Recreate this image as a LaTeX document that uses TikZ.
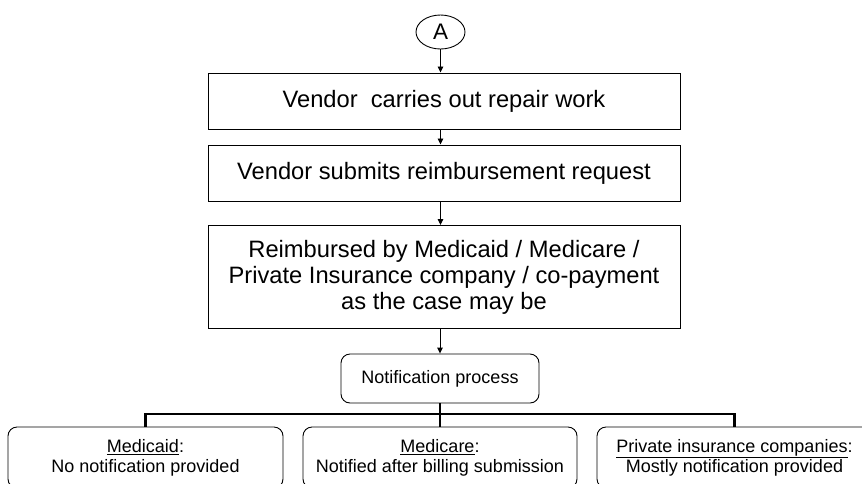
\documentclass[tikz,border=0pt]{standalone}
\usepackage{fontspec}
\setmainfont{Liberation Sans}
\usetikzlibrary{shapes.geometric,arrows.meta}
\tikzset{
  bigtxt/.style={font=\fontsize{23.7}{26}\selectfont, align=center},
  smalltxt/.style={font=\fontsize{18}{20}\selectfont, align=center},
  stepbox/.style={draw=black, line width=1pt, rectangle, minimum width=472pt, inner sep=0pt, bigtxt},
  roundbox/.style={draw=black, line width=0.9pt, rectangle, rounded corners=9pt, inner sep=0pt, smalltxt},
  conn/.style={line width=0.9pt, -{Triangle[length=6pt,width=5.5pt]}},
  bus/.style={line width=2.8pt}
}
\begin{document}
\begin{tikzpicture}[x=1pt,y=-1pt]
\useasboundingbox (0,0) rectangle (862,483);
\clip (0,0) rectangle (862,483);
\node[draw=black, line width=0.9pt, ellipse, minimum width=49pt, minimum height=34pt, inner sep=0pt,
      font=\fontsize{22.5}{24}\selectfont] (A) at (440.5,32) {A};
\node[stepbox, minimum height=56pt] (b1) at (444,101) {Vendor~ carries out repair work};
\node[stepbox, minimum height=56pt] (b2) at (444,173) {Vendor submits reimbursement request};
\node[stepbox, minimum height=103pt] (b3) at (444,277) {Reimbursed by Medicaid / Medicare /\\Private Insurance company / co-payment\\as the case may be};
\node[roundbox, minimum width=198pt, minimum height=49pt] (np) at (440,378.5) {Notification process};
\node[roundbox, minimum width=275pt, minimum height=61pt] (c1) at (145.5,457.5) {\underline{Medicaid}:\\No notification provided};
\node[roundbox, minimum width=274pt, minimum height=61pt] (c2) at (440,457.5) {\underline{Medicare}:\\Notified after billing submission};
\node[roundbox, minimum width=275pt, minimum height=61pt] (c3) at (734.5,457.5) {\underline{Private insurance companies}:\\Mostly notification provided};
\coordinate (j) at (440,414);
\draw[conn] (A.south) -- (A.south |- b1.north);
\draw[conn] (b1.south -| A.south) -- (b2.north -| A.south);
\draw[conn] (b2.south -| A.south) -- (b3.north -| A.south);
\draw[conn] (b3.south -| np.north) -- (np.north);
\draw[bus] (np.south) -- (j);
\draw[bus, line cap=rect] (c1.north |- j) -- (c3.north |- j);
\draw[bus] (c1.north |- j) -- (c1.north);
\draw[bus] (j) -- (c2.north);
\draw[bus] (c3.north |- j) -- (c3.north);
\end{tikzpicture}
\end{document}
